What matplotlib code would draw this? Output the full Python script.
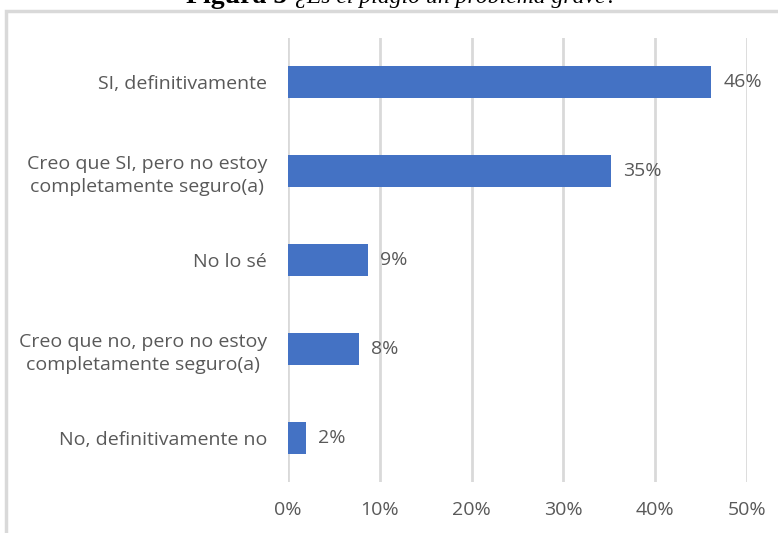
import matplotlib.pyplot as plt
import matplotlib.patches as mpatches
import numpy as np

plt.rcParams['font.family'] = ['Open Sans', 'DejaVu Sans']

categories = [
    'SI, definitivamente',
    'Creo que SI, pero no estoy\ncompletamente seguro(a)',
    'No lo sé',
    'Creo que no, pero no estoy\ncompletamente seguro(a)',
    'No, definitivamente no',
]
values = [46.1, 35.2, 8.7, 7.7, 2.0]
labels = ['46%', '35%', '9%', '8%', '2%']
xticks = [0, 10, 20, 30, 40, 50]

W, H = 778, 533
fig = plt.figure(figsize=(W / 100, H / 100), dpi=100)

# outer chart frame (extends past right/bottom edges)
fig.patches.append(mpatches.Rectangle((6 / W, -0.1), 1.2, 1 - 11 / H + 0.1,
                                      transform=fig.transFigure, fill=False,
                                      edgecolor='#d9d9d9', linewidth=2.5))

# caption above chart, mostly cut off by the top edge
fig.text(287 / W, 1 - 3 / H, 'Figura 5', ha='right', va='baseline',
         fontsize=20, fontweight='bold', family='Liberation Serif', color='black')
fig.text(295 / W, 1 - 3 / H, '¿Es el plagio un problema grave?', ha='left', va='baseline',
         fontsize=17, style='italic', family='Liberation Serif', color='black')

ax = fig.add_axes([288 / W, 1 - 482 / H, (747 - 288) / W, (482 - 38) / H])
y = np.arange(len(categories))
ax.barh(y, values, height=0.36, color='#4472c4', zorder=3)
ax.set_ylim(len(categories) - 0.5, -0.5)
ax.set_xlim(0, 50)

for yi, v, lab in zip(y, values, labels):
    ax.text(v + 1.3, yi, lab, va='center', ha='left', fontsize=14, color='#595959')

ax.set_xticks(xticks)
ax.set_xticklabels([f'{t}%' for t in xticks], fontsize=14, color='#595959')
ax.set_yticks(y)
ax.set_yticklabels(categories, fontsize=14, color='#595959', ha='right',
                   multialignment='center', linespacing=1.35)
ax.tick_params(axis='y', length=0, pad=15)
ax.tick_params(axis='x', length=0, pad=14)
ax.grid(axis='x', color='#d9d9d9', linewidth=2, zorder=0)
for s in ax.spines.values():
    s.set_visible(False)

fig.savefig('out.png', dpi=100)
